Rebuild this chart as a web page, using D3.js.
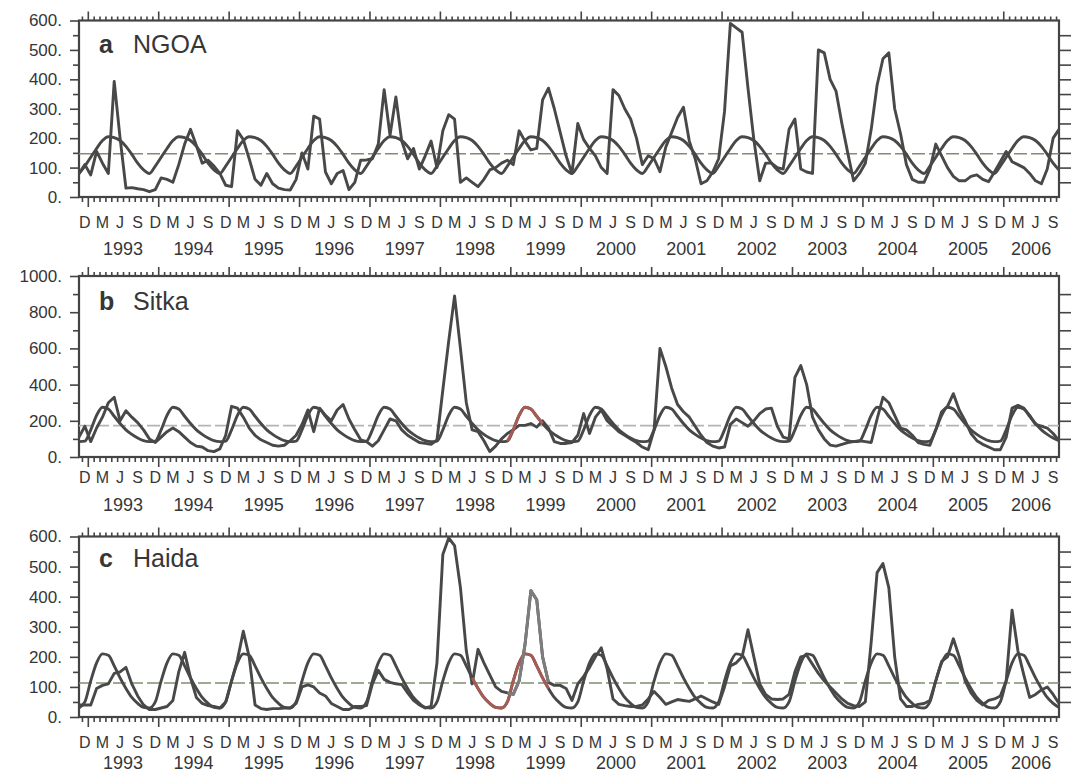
<!DOCTYPE html>
<html><head><meta charset="utf-8">
<script src="https://cdn.jsdelivr.net/npm/d3@7"></script>
<style>
body{margin:0;background:#fff}
svg{display:block}
text{font-family:"Liberation Sans",Arial,Helvetica,sans-serif;fill:#363636}
</style>
</head><body>
<svg id="chart" width="1074" height="776"></svg>
<script>
// ---------- DATA ----------
// monthly series, Nov 1992 .. Oct 2006 (168 months)
const firstYear = 1992, firstMonth = 11;
const years = [1993,1994,1995,1996,1997,1998,1999,2000,2001,2002,2003,2004,2005,2006];
const monthLetters = {12:"D", 3:"M", 6:"J", 9:"S"};

// climatologies Jan..Dec
const climA = [135,165,192,205,202,192,172,145,115,92,80,105];
const climB = [150,230,275,265,225,185,150,125,105,90,85,88];
const climC = [120,180,210,205,170,130,95,65,45,32,30,50];

const meanA = 147, meanB = 173, meanC = 113;

const obsA = [80,110,75,155,115,80,393,200,30,32,28,25,18,25,65,60,50,110,180,230,175,115,125,105,
80,40,35,225,195,130,60,40,80,45,30,25,24,60,150,95,275,265,85,45,80,90,25,50,
125,126,130,180,365,210,340,190,130,165,95,140,190,100,225,280,265,50,65,50,35,60,92,100,
115,125,110,225,190,160,165,330,370,300,220,140,80,250,195,165,140,100,80,365,345,300,265,200,
110,140,130,86,170,220,270,305,190,130,45,55,85,130,290,590,575,560,370,195,55,115,115,100,
95,230,265,95,85,80,500,490,400,360,250,150,55,80,115,230,380,470,490,300,215,110,60,50,
50,95,180,140,100,70,55,55,70,75,60,52,85,120,155,120,110,100,80,55,45,95,200,230];

const obsB = [110,170,85,160,220,300,330,200,255,220,190,150,100,80,110,140,160,140,110,80,60,55,35,30,
45,120,280,270,220,160,120,95,80,65,60,65,90,120,180,260,140,270,230,200,260,290,210,150,
95,85,60,90,150,210,200,150,120,100,80,75,70,94,370,640,890,600,300,150,140,90,30,60,
100,130,150,175,175,185,165,200,160,85,75,75,80,120,240,130,220,260,200,170,140,120,100,80,
55,40,150,600,500,380,290,250,220,170,120,80,60,50,55,180,210,190,170,200,240,265,270,170,
110,100,440,505,400,220,150,100,66,60,70,80,85,90,85,80,210,330,300,230,160,150,120,80,
70,65,150,250,280,350,260,200,130,90,70,55,40,40,110,270,285,270,230,180,170,160,130,90];

const obsC = [40,40,40,95,105,110,145,150,165,110,70,40,25,25,30,35,55,150,215,130,65,45,38,35,
30,50,120,190,285,200,40,28,25,28,28,30,30,45,100,107,100,80,70,45,35,25,25,35,
35,38,110,155,125,115,110,108,80,55,40,30,35,180,540,595,570,430,220,110,225,180,140,100,
85,80,75,120,240,420,390,200,115,105,105,95,55,110,135,165,200,230,160,60,42,38,35,35,
40,60,85,65,42,50,58,55,52,60,70,60,50,42,100,170,180,200,290,200,110,75,60,58,
60,75,150,200,205,175,145,120,100,80,60,45,38,35,50,250,480,510,430,200,60,35,35,42,
45,55,120,185,200,260,200,120,80,55,40,55,60,70,120,355,220,140,65,75,90,100,75,45];

const yTicksA = [0,100,200,300,400,500,600];
const yTicksB = [0,200,400,600,800,1000];
const yTicksC = [0,100,200,300,400,500,600];

// segments tinted in the scanned figure (month index ranges)
const redClimB = [73,79];
const redClimC = [67,80];
const greyObsC = [73,80];

// ---------- LAYOUT ----------
const svg = d3.select("#chart");
const L = 79, R = 1059;
const nMonths = obsA.length;
const x = d3.scaleLinear().domain([0, nMonths-1]).range([L, R]);
const monthOf = i => ((firstMonth - 1 + i) % 12) + 1;
const climSeries = c => d3.range(nMonths).map(i => c[monthOf(i)-1]);

const panels = [
  {letter:"a", name:"NGOA", obs:obsA, clim:climA, mean:meanA, ticks:yTicksA, top:20.5, bottom:197, monthY:228, yearY:255, titleY:53, tint:"#7f9070"},
  {letter:"b", name:"Sitka", obs:obsB, clim:climB, mean:meanB, ticks:yTicksB, top:276, bottom:457, monthY:483, yearY:511, titleY:310, tint:"#b4b4b4", red:redClimB},
  {letter:"c", name:"Haida", obs:obsC, clim:climC, mean:meanC, ticks:yTicksC, top:536.5, bottom:717, monthY:748, yearY:769, titleY:567, tint:"#7f9070", red:redClimC, grey:greyObsC}
];

const ink = "#444";
const lineInk = "#484848";
const lw = 2.9;

// x tick positions (month boundaries), majors at Jan 1
const boundaries = d3.range(0, nMonths-1).map(i => i + 0.5);
const majorX = boundaries.filter(b => monthOf(Math.ceil(b)) === 1);
const minorX = boundaries.filter(b => monthOf(Math.ceil(b)) !== 1);

panels.forEach(p => {
  const yMax = p.ticks[p.ticks.length-1];
  const step = p.ticks[1] - p.ticks[0];
  const y = d3.scaleLinear().domain([0, yMax]).range([p.bottom, p.top]);
  const minorY = p.ticks.slice(0,-1).map(t => t + step/2);
  const g = svg.append("g");

  const styleAxis = sel => {
    sel.select(".domain").remove();
    sel.selectAll("line").attr("stroke", ink).attr("stroke-width", 1.6);
    sel.selectAll("text").attr("fill", "#363636");
  };

  // left axis
  g.append("g").attr("transform", `translate(${L},0)`)
    .call(d3.axisLeft(y).tickValues(p.ticks).tickSize(9).tickPadding(8).tickFormat(d => d + "."))
    .call(styleAxis)
    .selectAll("text").style("font-size", "17px").style("font-family", '"Liberation Sans",Arial,sans-serif');
  g.append("g").attr("transform", `translate(${L},0)`)
    .call(d3.axisLeft(y).tickValues(minorY).tickSize(6).tickFormat(""))
    .call(styleAxis);
  // right axis
  g.append("g").attr("transform", `translate(${R},0)`)
    .call(d3.axisRight(y).tickValues(p.ticks.concat(minorY).filter(v => v > 0 && v < yMax)).tickSize(12).tickFormat(""))
    .call(styleAxis);
  // bottom axis
  g.append("g").attr("transform", `translate(0,${p.bottom})`)
    .call(d3.axisBottom(x).tickValues(minorX).tickSize(5).tickFormat(""))
    .call(styleAxis);
  g.append("g").attr("transform", `translate(0,${p.bottom})`)
    .call(d3.axisBottom(x).tickValues(majorX).tickSize(10).tickFormat(""))
    .call(styleAxis);
  // top axis
  g.append("g").attr("transform", `translate(0,${p.top})`)
    .call(d3.axisTop(x).tickValues(minorX).tickSize(4).tickFormat(""))
    .call(styleAxis);
  g.append("g").attr("transform", `translate(0,${p.top})`)
    .call(d3.axisTop(x).tickValues(majorX).tickSize(9).tickFormat(""))
    .call(styleAxis);

  // frame
  g.append("rect").attr("x", L).attr("y", p.top).attr("width", R-L).attr("height", p.bottom-p.top)
    .attr("fill", "none").attr("stroke", ink).attr("stroke-width", 2.2);

  // month labels
  d3.range(nMonths).filter(i => monthLetters[monthOf(i)]).forEach(i => {
    g.append("text").attr("x", x(i)).attr("y", p.monthY).attr("text-anchor", "middle")
      .style("font-size", "16px").text(monthLetters[monthOf(i)]);
  });
  // year labels, centred on the visible part of each year
  years.forEach((yr, k) => {
    const s = Math.max(x(majorX[k]), L);
    const e = majorX[k+1] !== undefined ? x(majorX[k+1]) : R;
    g.append("text").attr("x", (s+e)/2).attr("y", p.yearY).attr("text-anchor", "middle")
      .style("font-size", "18px").text(yr);
  });

  // title
  g.append("text").attr("x", 99).attr("y", p.titleY).style("font-size", "25px")
    .style("font-weight", "bold").text(p.letter);
  g.append("text").attr("x", 133).attr("y", p.titleY).style("font-size", "25px").text(p.name);

  // mean line
  g.append("line").attr("x1", L).attr("x2", R).attr("y1", y(p.mean)).attr("y2", y(p.mean))
    .attr("stroke", p.tint).attr("stroke-width", 1.7).attr("stroke-dasharray", "13,4");

  const lineLin = d3.line().x((d,i) => x(i)).y(d => y(d));
  const lineSmooth = d3.line().x((d,i) => x(i)).y(d => y(d)).curve(d3.curveMonotoneX);
  const clim = climSeries(p.clim);

  g.append("path").datum(clim).attr("d", lineSmooth)
    .attr("fill", "none").attr("stroke", lineInk).attr("stroke-width", lw).attr("stroke-linejoin", "round");
  g.append("path").datum(p.obs).attr("d", lineLin)
    .attr("fill", "none").attr("stroke", lineInk).attr("stroke-width", lw).attr("stroke-linejoin", "round");

  if (p.red) {
    const seg = d3.line().x(d => x(d.i)).y(d => y(d.v)).curve(d3.curveMonotoneX);
    const pts = d3.range(p.red[0], p.red[1]+1).map(i => ({i, v: clim[i]}));
    g.append("path").datum(pts).attr("d", seg)
      .attr("fill", "none").attr("stroke", "#a85a55").attr("stroke-width", lw);
  }
  if (p.grey) {
    const seg = d3.line().x(d => x(d.i)).y(d => y(d.v));
    const pts = d3.range(p.grey[0], p.grey[1]+1).map(i => ({i, v: p.obs[i]}));
    g.append("path").datum(pts).attr("d", seg)
      .attr("fill", "none").attr("stroke", "#7d7d7d").attr("stroke-width", lw).attr("stroke-linejoin", "round");
  }
});
</script>
</body></html>
